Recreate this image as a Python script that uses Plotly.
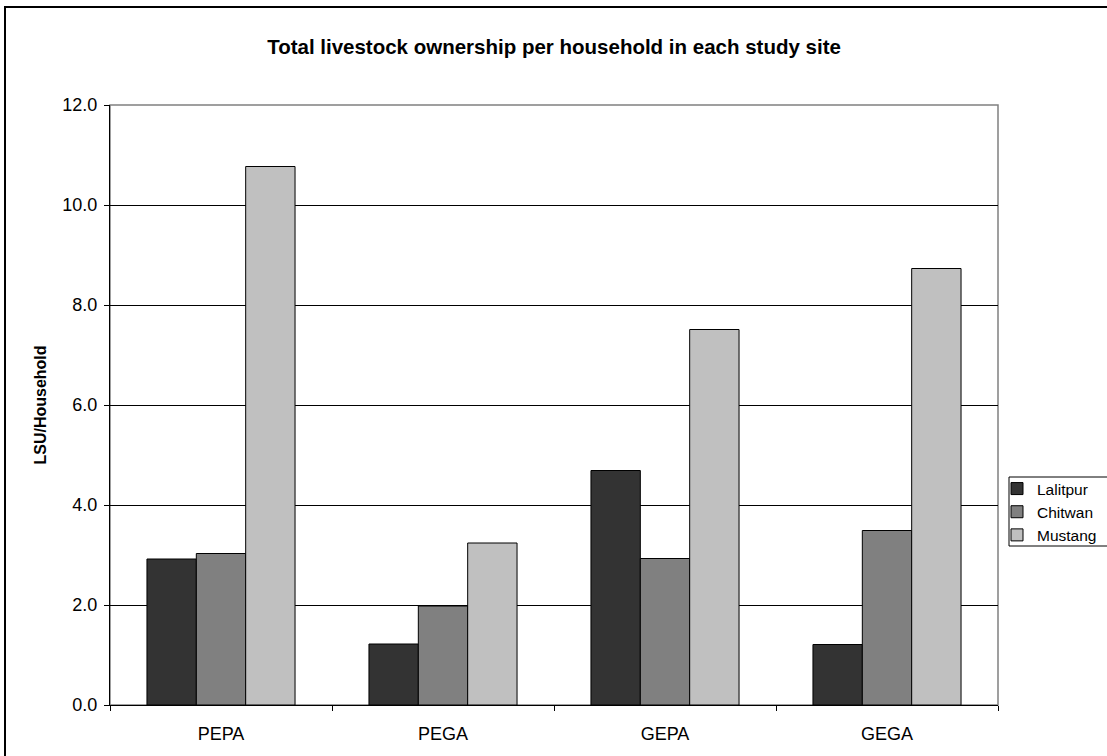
import plotly.graph_objects as go

categories = ["PEPA", "PEGA", "GEPA", "GEGA"]
lalitpur = [2.92, 1.22, 4.69, 1.21]
chitwan = [3.03, 1.98, 2.93, 3.49]
mustang = [10.77, 3.24, 7.51, 8.73]
series_names = ["Lalitpur", "Chitwan", "Mustang"]
series_colors = ["#333333", "#808080", "#c0c0c0"]
y_ticks = [0, 2, 4, 6, 8, 10, 12]

W, H = 1107, 756
L, R, T, B = 110, 998, 105, 705

fig = go.Figure()
for name, vals, col in zip(series_names, [lalitpur, chitwan, mustang], series_colors):
    fig.add_trace(go.Bar(
        x=categories, y=vals, name=name,
        marker=dict(color=col, line=dict(color="#000000", width=1)),
    ))

def px_to_paper_x(px):
    return (px - L) / (R - L)

def px_to_paper_y(py):
    return (B - py) / (B - T)

fig.update_layout(
    width=W, height=H,
    margin=dict(l=L, r=W - R, t=T, b=H - B, pad=0, autoexpand=False),
    paper_bgcolor="white", plot_bgcolor="white",
    barmode="group", bargap=0.333, bargroupgap=0,
    font=dict(family="Liberation Sans, Arial, sans-serif", color="#000000", size=17),
    title=dict(
        text="<b>Total livestock ownership per household in each study site</b>",
        x=0.5, xanchor="center", xref="paper",
        y=1 - 47 / H, yanchor="middle", yref="container",
        font=dict(size=20.5),
    ),
    showlegend=True,
    legend=dict(
        xref="container", yref="container",
        x=997 / W, xanchor="left",
        y=1 - 472 / H, yanchor="top",
        borderwidth=0, bgcolor="rgba(0,0,0,0)",
        font=dict(size=15.5), tracegroupgap=0, itemwidth=30,
    ),
    xaxis=dict(
        showline=True, linecolor="#000000", linewidth=1,
        ticks="outside", tickson="boundaries", ticklen=5, tickcolor="#000000",
        showgrid=False, tickfont=dict(size=18), ticklabelstandoff=12,
    ),
    yaxis=dict(
        range=[0, 12], tickvals=y_ticks, tickformat=".1f",
        showline=True, linecolor="#000000", linewidth=1,
        ticks="outside", ticklen=5, tickcolor="#000000",
        showgrid=True, gridcolor="#000000", gridwidth=1,
        zeroline=False, tickfont=dict(size=18), ticklabelstandoff=3,
        title=dict(text="<b>LSU/Household</b>", font=dict(size=16), standoff=11),
    ),
    shapes=[
        dict(type="rect", xref="paper", yref="paper", x0=0, x1=1, y0=0, y1=1,
             line=dict(color="#808080", width=1.5), layer="below"),
        dict(type="rect", xref="paper", yref="paper",
             x0=px_to_paper_x(5), x1=px_to_paper_x(W + 20),
             y0=px_to_paper_y(H + 20), y1=px_to_paper_y(7),
             line=dict(color="#000000", width=2), layer="below"),
        dict(type="rect", xref="paper", yref="paper",
             x0=px_to_paper_x(1009), x1=px_to_paper_x(W + 20),
             y0=px_to_paper_y(546), y1=px_to_paper_y(477),
             line=dict(color="#000000", width=1), fillcolor="white", layer="below"),
    ],
)

fig.write_html("out.html")
